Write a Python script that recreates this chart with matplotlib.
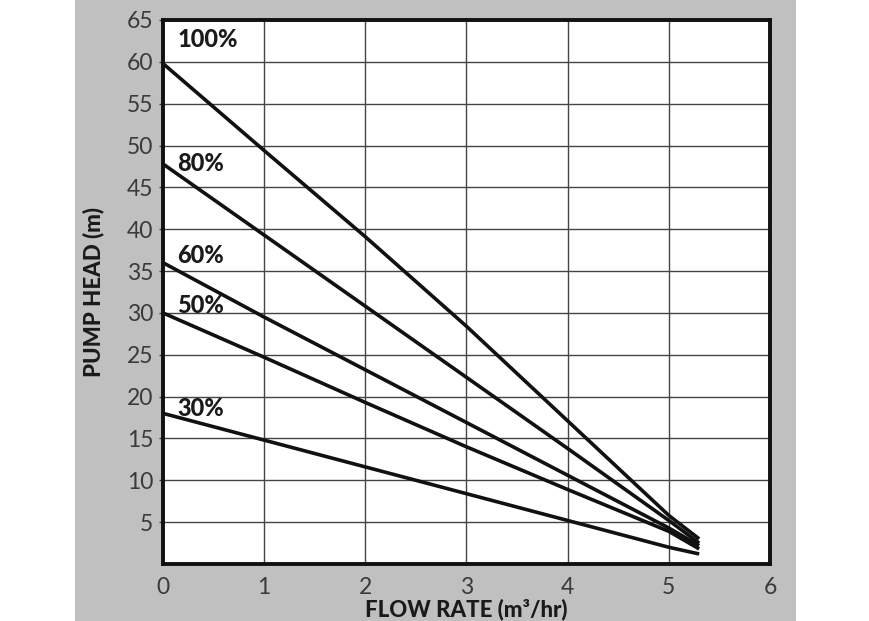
import matplotlib
matplotlib.use("Agg")
import matplotlib.pyplot as plt
from matplotlib.patches import Rectangle

plt.rcParams['font.family'] = ['Lato', 'DejaVu Sans']

# flow rate points (m3/hr) and pump head (m) for each speed
flow = [0, 1, 2, 3, 4, 5, 5.3]
head_100 = [59.8, 49.4, 39.1, 28.4, 17.1, 5.8, 3.0]
head_80 = [47.8, 39.3, 30.8, 22.3, 13.8, 5.2, 2.5]
head_60 = [36.0, 29.5, 23.2, 16.9, 10.6, 4.3, 2.2]
head_50 = [30.0, 24.7, 19.3, 14.0, 8.9, 3.9, 1.8]
head_30 = [18.0, 14.8, 11.6, 8.4, 5.2, 2.0, 1.2]

curves = [head_100, head_80, head_60, head_50, head_30]
curve_labels = ['100%', '80%', '60%', '50%', '30%']
label_base = [61.8, 46.9, 36.0, 30.0, 17.7]

x_ticks = [0, 1, 2, 3, 4, 5, 6]
y_ticks = [5, 10, 15, 20, 25, 30, 35, 40, 45, 50, 55, 60, 65]

fig = plt.figure(figsize=(8.7, 6.21), dpi=100, facecolor='white')
# grey panel behind the chart
fig.add_artist(Rectangle((75 / 870, 0), (796 - 75) / 870, 1, transform=fig.transFigure,
                         facecolor='#c0c0c0', edgecolor='none', zorder=-10))

ax = fig.add_axes([163 / 870, 1 - 564 / 621, (770 - 163) / 870, (564 - 20) / 621])
ax.set_facecolor('white')

for vals in curves:
    ax.plot(flow, vals, color='#111111', lw=2.6, solid_capstyle='butt', zorder=3)

for txt, yy in zip(curve_labels, label_base):
    ax.text(0.14, yy, txt, fontsize=17, fontweight='black', color='#1a1a1a',
            ha='left', va='baseline', zorder=4)

ax.set_xlim(0, 6)
ax.set_ylim(0, 65)
ax.set_xticks(x_ticks)
ax.set_yticks(y_ticks)
ax.grid(True, color='#444444', lw=1.0, zorder=1)
ax.set_axisbelow(True)

for sp in ax.spines.values():
    sp.set_linewidth(2.8)
    sp.set_color('#111111')

ax.tick_params(axis='y', length=3, width=1, color='#444444', pad=4, labelsize=16.5, labelcolor='#3a3a3a')
ax.tick_params(axis='x', length=0, pad=9, labelsize=16.5, labelcolor='#3a3a3a')

ax.set_xlabel('FLOW RATE (m³/hr)', fontsize=16, fontweight='black', color='#1a1a1a', labelpad=1)
ax.set_ylabel('PUMP HEAD (m)', fontsize=16, fontweight='black', color='#1a1a1a', labelpad=16)

fig.savefig('out.png', dpi=100, facecolor='white')
